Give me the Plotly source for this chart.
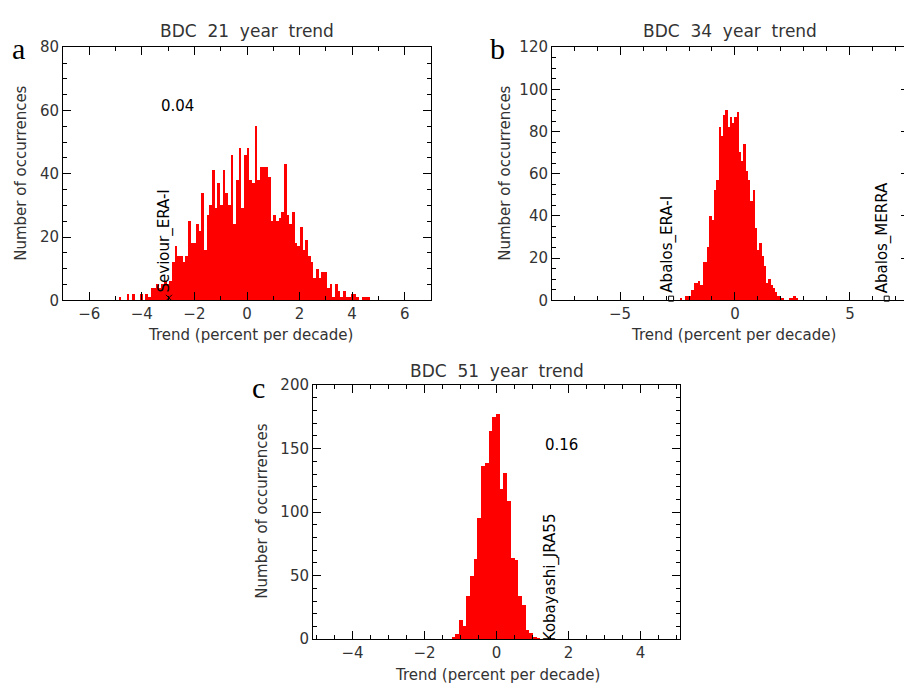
import plotly.graph_objects as go
import numpy as np

# ---- data ----
# panel a: BDC 21 year trend (counts per bin, left to right)
a_counts = [1, 0, 0, 2, 0, 2, 0, 0, 2, 0, 2, 1, 4, 4, 5, 4, 5, 6, 5, 6,
            12, 17, 14, 14, 12, 14, 25, 18, 18, 24, 22, 34, 16, 27, 30, 41,
            29, 37, 30, 41, 34, 30, 46, 24, 38, 48, 29, 46, 48, 38, 37, 55,
            38, 42, 42, 42, 39, 25, 27, 25, 26, 28, 43, 27, 24, 28, 18, 17,
            23, 16, 19, 14, 12, 7, 10, 7, 9, 9, 4, 5, 1, 5, 3, 1, 3, 1, 1,
            2, 2, 1, 0, 1, 1, 1]
a_bin_start = -4.88
a_bin_width = 0.1015

# panel b: BDC 34 year trend
b_counts = [1, 0, 2, 2, 2, 5, 8, 8, 9, 7, 18, 18, 25, 40, 38, 52, 57, 82,
            78, 88, 90, 82, 87, 84, 87, 89, 70, 66, 74, 61, 57, 47, 52, 34,
            24, 27, 21, 16, 8, 10, 7, 6, 4, 2, 1, 1, 0, 0, 1, 1, 2, 1]
b_bin_start = -2.39
b_bin_width = 0.0985

# panel c: BDC 51 year trend
c_counts = [2, 4, 15, 10, 34, 50, 63, 95, 136, 139, 164, 175, 177, 118,
            131, 109, 64, 62, 34, 27, 7, 5, 2, 1]
c_bin_start = -1.25
c_bin_width = 0.103

# reanalysis markers
a_marks = {'Seviour_ERA-I': -2.97}
b_marks = {'Abalos_ERA-I': -2.78, 'Abalos_MERRA': 6.6}
c_marks = {'Kobayashi_JRA55': 1.6}
c_triangle = 1.94

a_stat = '0.04'
c_stat = '0.16'

FONT = 'DejaVu Sans'


def centers(start, width, n):
    return start + width * (np.arange(n) + 0.5)


fig = go.Figure()

for counts, start, width, xa, ya in [
        (a_counts, a_bin_start, a_bin_width, 'x', 'y'),
        (b_counts, b_bin_start, b_bin_width, 'x2', 'y2'),
        (c_counts, c_bin_start, c_bin_width, 'x3', 'y3')]:
    fig.add_trace(go.Bar(x=centers(start, width, len(counts)), y=counts,
                         width=width, marker_color='#ff0000',
                         marker_line_width=0, xaxis=xa, yaxis=ya,
                         showlegend=False))


def marker(x, y, symbol, xa, ya, size=6):
    fig.add_trace(go.Scatter(x=[x], y=[y], mode='markers', xaxis=xa, yaxis=ya,
                             marker=dict(symbol=symbol, size=size, color='black',
                                         line=dict(width=1, color='black')),
                             cliponaxis=False, showlegend=False))


annotations = []


def vlabel(text, x, y, xr, yr, yshift=0):
    annotations.append(dict(text=text, x=x, y=y, xref=xr, yref=yr,
                            textangle=-90, xanchor='center', yanchor='bottom',
                            xshift=-4, yshift=yshift, showarrow=False,
                            font=dict(family=FONT, size=15, color='black')))


for name, xv in a_marks.items():
    marker(xv, 0.8, 'x-thin-open', 'x', 'y')
    marker(xv, -0.4, 'triangle-up-open', 'x', 'y')
    vlabel(name, xv, 2.0, 'x', 'y')

for name, xv in b_marks.items():
    marker(xv, 0.8, 'square-open', 'x2', 'y2', size=5)
    vlabel(name, xv, 2.5, 'x2', 'y2')

for name, xv in c_marks.items():
    marker(xv, -0.5, 'x-thin-open', 'x3', 'y3')
    vlabel(name, xv, 4.0, 'x3', 'y3', yshift=-9)
marker(c_triangle, -0.5, 'triangle-up-open', 'x3', 'y3')

annotations.append(dict(text=a_stat, x=-2.66, y=61.4, xref='x', yref='y',
                        showarrow=False, font=dict(family=FONT, size=15, color='black')))
annotations.append(dict(text=c_stat, x=1.8, y=152.8, xref='x3', yref='y3',
                        showarrow=False, font=dict(family=FONT, size=15, color='black')))

# the page body has an 8px margin, so the figure is drawn 8px in from the
# top-left corner of the window; positions below are window pixels
OFF = 8
W, H = 912 - OFF, 692 - OFF


def px_x(px):
    return (px - OFF) / W


def px_y(py):
    return 1 - (py - OFF) / H


def ptext(text, px, py, size=15, angle=0, family=FONT, color='#333'):
    annotations.append(dict(text=text, x=px_x(px), y=px_y(py),
                            xref='paper', yref='paper',
                            textangle=angle, showarrow=False,
                            xanchor='center', yanchor='middle',
                            font=dict(family=family, size=size, color=color)))


sp = '\u00a0\u00a0'
ptext(sp.join(['BDC', '21', 'year', 'trend']), 247, 22, size=17)
ptext(sp.join(['BDC', '34', 'year', 'trend']), 730, 22, size=17)
ptext(sp.join(['BDC', '51', 'year', 'trend']), 497, 372, size=17)

for px, py in [(250, 335), (733, 335), (497, 684)]:
    ptext('Trend (percent per decade)', px, py)
for px, py in [(21, 169), (505, 169), (262, 516)]:
    ptext('Number of occurrences', px, py, angle=-90)

for lab, px, py in [('a', 18, 40), ('b', 497, 40), ('c', 258, 388)]:
    ptext(lab, px, py, size=30, family='Liberation Serif', color='black')


def axis(xr, yr, horizontal, rng, dtick, minor, anchor):
    dom = [px_x(xr[0]), px_x(xr[1])] if horizontal else [px_y(yr[1]), px_y(yr[0])]
    return dict(domain=dom, range=rng, dtick=dtick, tick0=0, anchor=anchor,
                showline=True, linecolor='black', linewidth=1, mirror='ticks',
                ticks='inside', ticklen=8, tickcolor='black', tickwidth=1,
                showgrid=False, zeroline=False,
                tickfont=dict(family=FONT, size=15, color='#333'),
                minor=dict(dtick=minor, tick0=0, ticks='inside', ticklen=4,
                           tickcolor='black', showgrid=False))


# plot boxes in window pixels: (left, right), (top, bottom)
a_box = ((63, 431), (39, 299))
b_box = ((552, 909), (39, 299))
c_box = ((313, 680), (386, 647))

fig.update_layout(
    width=W, height=H,
    margin=dict(l=0, r=0, t=0, b=0),
    paper_bgcolor='white', plot_bgcolor='white',
    bargap=0,
    xaxis=axis(*a_box, True, [-7, 7], 2, 1, 'y'),
    yaxis=axis(*a_box, False, [0, 80], 20, 5, 'x'),
    xaxis2=axis(*b_box, True, [-7.96, 7.57], 5, 1, 'y2'),
    yaxis2=axis(*b_box, False, [0, 120], 20, 5, 'x2'),
    xaxis3=axis(*c_box, True, [-5.1, 5.1], 2, 0.5, 'y3'),
    yaxis3=axis(*c_box, False, [0, 200], 50, 10, 'x3'),
    annotations=annotations,
)

fig.write_html('out.html')
